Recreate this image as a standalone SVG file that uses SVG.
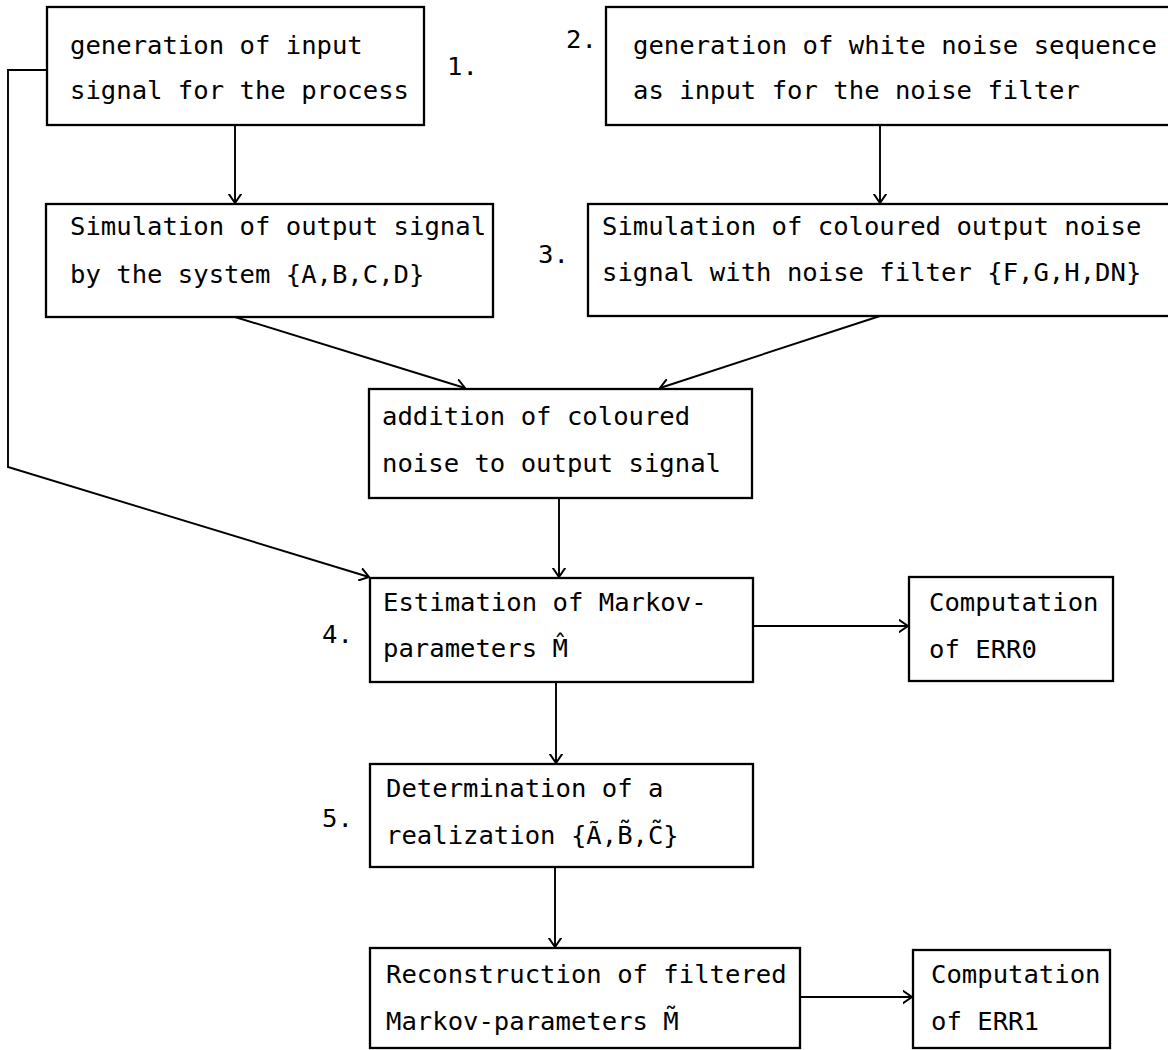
<svg xmlns="http://www.w3.org/2000/svg" width="1168" height="1050" viewBox="0 0 1168 1050">
<style>
.box{fill:#fff;stroke:#000;stroke-width:2.3}
.t{font-family:"DejaVu Sans Mono","Liberation Mono",monospace;font-size:25.6px;fill:#000}
.c{fill:none;stroke:#000;stroke-width:1.9}
</style>
<defs>
<marker id="ah" markerUnits="userSpaceOnUse" viewBox="0 0 10 14" refX="9.5" refY="7" markerWidth="10" markerHeight="14" orient="auto">
<path d="M0,0.5 L9.5,7 L0,13.5" fill="none" stroke="#000" stroke-width="2"/>
</marker>
</defs>
<rect width="1168" height="1050" fill="#fff"/>
<g id="connectors">
<path class="c" d="M235,125 V203" marker-end="url(#ah)"/>
<path class="c" d="M880,125 V203" marker-end="url(#ah)"/>
<path class="c" d="M235,317 L465,388" marker-end="url(#ah)"/>
<path class="c" d="M880,316 L660,388" marker-end="url(#ah)"/>
<path class="c" d="M47,70 H8 V467 L369,577" marker-end="url(#ah)"/>
<path class="c" d="M559,498 V577" marker-end="url(#ah)"/>
<path class="c" d="M753,626 H908" marker-end="url(#ah)"/>
<path class="c" d="M556,682 V763" marker-end="url(#ah)"/>
<path class="c" d="M555,867 V947" marker-end="url(#ah)"/>
<path class="c" d="M800,997 H912" marker-end="url(#ah)"/>
</g>
<g id="node1">
<rect class="box" x="47" y="7" width="377" height="118"/>
<text class="t" x="70" y="54">generation of input</text>
<text class="t" x="70" y="99">signal for the process</text>
</g>
<g id="label1"><text class="t" x="447" y="75">1.</text></g>
<g id="node2">
<rect class="box" x="606" y="7" width="570" height="118"/>
<text class="t" x="633" y="54">generation of white noise sequence</text>
<text class="t" x="633" y="99">as input for the noise filter</text>
</g>
<g id="label2"><text class="t" x="566" y="48">2.</text></g>
<g id="node3">
<rect class="box" x="46" y="204" width="447" height="113"/>
<text class="t" x="70" y="235">Simulation of output signal</text>
<text class="t" x="70" y="283">by the system {A,B,C,D}</text>
</g>
<g id="label3"><text class="t" x="538" y="263">3.</text></g>
<g id="node4">
<rect class="box" x="588" y="204" width="588" height="112"/>
<text class="t" x="602" y="235">Simulation of coloured output noise</text>
<text class="t" x="602" y="281">signal with noise filter {F,G,H,DN}</text>
</g>
<g id="node5">
<rect class="box" x="369" y="389" width="383" height="109"/>
<text class="t" x="382" y="425">addition of coloured</text>
<text class="t" x="382" y="472">noise to output signal</text>
</g>
<g id="node6">
<rect class="box" x="370" y="578" width="383" height="104"/>
<text class="t" x="383" y="611">Estimation of Markov-</text>
<text class="t" x="383" y="657">parameters M̂</text>
</g>
<g id="label4"><text class="t" x="322" y="643">4.</text></g>
<g id="node7">
<rect class="box" x="909" y="577" width="204" height="104"/>
<text class="t" x="929" y="611">Computation</text>
<text class="t" x="929" y="658">of ERR0</text>
</g>
<g id="node8">
<rect class="box" x="370" y="764" width="383" height="103"/>
<text class="t" x="386" y="797">Determination of a</text>
<text class="t" x="386" y="844">realization {Ã,B̃,C̃}</text>
</g>
<g id="label5"><text class="t" x="322" y="827">5.</text></g>
<g id="node9">
<rect class="box" x="370" y="948" width="430" height="100"/>
<text class="t" x="386" y="983">Reconstruction of filtered</text>
<text class="t" x="386" y="1030">Markov-parameters M̃</text>
</g>
<g id="node10">
<rect class="box" x="913" y="950" width="197" height="98"/>
<text class="t" x="931" y="983">Computation</text>
<text class="t" x="931" y="1030">of ERR1</text>
</g>
</svg>
